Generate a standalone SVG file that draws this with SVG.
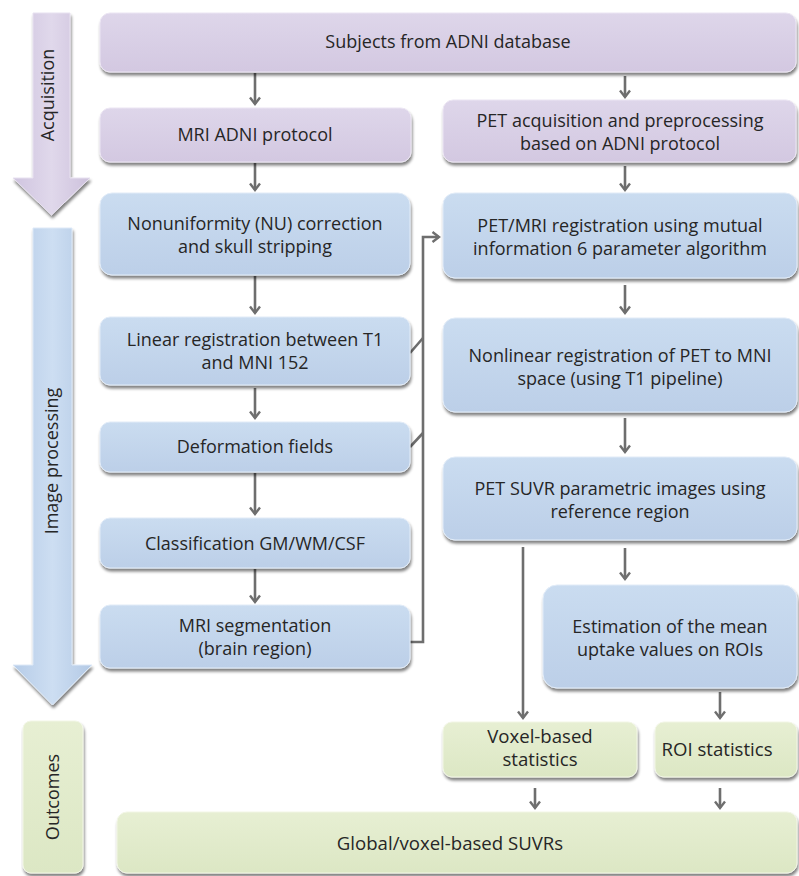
<svg xmlns="http://www.w3.org/2000/svg" width="799" height="876" viewBox="0 0 799 876">
<style>
.t{font-family:"Open Sans","Noto Sans","DejaVu Sans",sans-serif;font-size:18px;fill:#262626;text-anchor:middle}
.s{font-size:18.6px}
.p{fill:url(#gp);stroke:#ece6f3;stroke-width:1;filter:url(#sh)}
.b{fill:url(#gb);stroke:#e2ecf8;stroke-width:1;filter:url(#sh)}
.g{fill:url(#gg);stroke:#f2f6e6;stroke-width:1;filter:url(#sh)}
.c{stroke:#6e6e6e;stroke-width:2.6;fill:none}
.a{marker-end:url(#ah)}
</style>
<defs>
<linearGradient id="gp" x1="0" y1="0" x2="0" y2="1"><stop offset="0" stop-color="#ded6ea"/><stop offset="1" stop-color="#d3c8e1"/></linearGradient>
<linearGradient id="gb" x1="0" y1="0" x2="0" y2="1"><stop offset="0" stop-color="#cadcf0"/><stop offset="1" stop-color="#bccfe8"/></linearGradient>
<linearGradient id="gg" x1="0" y1="0" x2="0" y2="1"><stop offset="0" stop-color="#e7efd3"/><stop offset="1" stop-color="#dce7c4"/></linearGradient>
<linearGradient id="ap" x1="0" y1="0" x2="1" y2="0"><stop offset="0" stop-color="#cfc4df"/><stop offset="0.5" stop-color="#e0d8eb"/><stop offset="1" stop-color="#cdc1dc"/></linearGradient>
<linearGradient id="ab" x1="0" y1="0" x2="1" y2="0"><stop offset="0" stop-color="#b6cce8"/><stop offset="0.5" stop-color="#cddef2"/><stop offset="1" stop-color="#b3c9e5"/></linearGradient>
<filter id="sh" x="-5%" y="-10%" width="112%" height="130%">
<feGaussianBlur in="SourceAlpha" stdDeviation="1.5"/>
<feOffset dx="1" dy="2.5" result="o"/>
<feComponentTransfer><feFuncA type="linear" slope="0.5"/></feComponentTransfer>
<feMerge><feMergeNode/><feMergeNode in="SourceGraphic"/></feMerge>
</filter>
<marker id="ah" viewBox="0 0 12 12" refX="10" refY="6" markerWidth="12" markerHeight="12" markerUnits="userSpaceOnUse" orient="auto">
<path d="M3.5,1 L10,6 L3.5,11" fill="none" stroke="#6e6e6e" stroke-width="2.4"/>
</marker>
</defs>

<g id="phase-acquisition">
<path d="M33,13 H70 V178 H90 L51.5,215 L13,178 H33 Z" fill="url(#ap)" stroke="#e8e2f0" stroke-width="1" filter="url(#sh)"/>
<text class="t" transform="translate(54,95) rotate(-90)">Acquisition</text>
</g>
<g id="phase-image-processing">
<path d="M33,228 H72 V665 H92 L52.5,705 L13,665 H33 Z" fill="url(#ab)" stroke="#deeaf7" stroke-width="1" filter="url(#sh)"/>
<text class="t" transform="translate(58,461) rotate(-90)">Image processing</text>
</g>
<g id="phase-outcomes">
<rect class="g" x="23" y="721" width="60" height="152" rx="8"/>
<text class="t" transform="translate(59,797) rotate(-90)">Outcomes</text>
</g>

<g id="connectors">
<line class="c a" x1="255" y1="73" x2="255" y2="104"/>
<line class="c a" x1="625" y1="76" x2="625" y2="97"/>
<line class="c a" x1="255" y1="163" x2="255" y2="190"/>
<line class="c a" x1="625" y1="166" x2="625" y2="190"/>
<line class="c a" x1="255" y1="276" x2="255" y2="313"/>
<line class="c a" x1="255" y1="388" x2="255" y2="418"/>
<line class="c a" x1="255" y1="473" x2="255" y2="514"/>
<line class="c a" x1="255" y1="569" x2="255" y2="602"/>
<line class="c a" x1="625" y1="285" x2="625" y2="313"/>
<line class="c a" x1="625" y1="418" x2="625" y2="452"/>
<line class="c a" x1="625" y1="548" x2="625" y2="579"/>
<line class="c a" x1="523" y1="547" x2="523" y2="718"/>
<line class="c a" x1="720" y1="692" x2="720" y2="718"/>
<line class="c a" x1="535" y1="788" x2="535" y2="808"/>
<line class="c a" x1="720" y1="788" x2="720" y2="808"/>
<path class="c a" d="M410,642 H423 V237 H439"/>
<path class="c" d="M410,353 L423,338"/>
<path class="c" d="M410,447 L423,433"/>
</g>

<g id="subjects">
<rect class="p" x="100" y="13" width="696" height="59" rx="10"/>
<text class="t" x="448" y="48">Subjects from ADNI database</text>
</g>
<g id="mri-adni">
<rect class="p" x="100" y="108" width="311" height="54" rx="10"/>
<text class="t" x="255" y="141">MRI ADNI protocol</text>
</g>
<g id="pet-acq">
<rect class="p" x="443" y="100" width="353" height="62" rx="10"/>
<text class="t" x="620" y="127">PET acquisition and preprocessing</text>
<text class="t" x="620" y="150">based on ADNI protocol</text>
</g>
<g id="nu-correction">
<rect class="b" x="100" y="193" width="310" height="82" rx="12"/>
<text class="t" x="255" y="230">Nonuniformity (NU) correction</text>
<text class="t" x="255" y="253">and skull stripping</text>
</g>
<g id="linear-reg">
<rect class="b" x="100" y="317" width="310" height="68" rx="10"/>
<text class="t" x="255" y="346">Linear registration between T1</text>
<text class="t" x="255" y="369">and MNI 152</text>
</g>
<g id="deformation">
<rect class="b" x="100" y="422" width="310" height="50" rx="10"/>
<text class="t" x="255" y="453">Deformation fields</text>
</g>
<g id="classification">
<rect class="b" x="100" y="518" width="310" height="50" rx="10"/>
<text class="t" x="255" y="550">Classification GM/WM/CSF</text>
</g>
<g id="segmentation">
<rect class="b" x="100" y="605" width="310" height="63" rx="10"/>
<text class="t" x="255" y="632">MRI segmentation</text>
<text class="t" x="255" y="655">(brain region)</text>
</g>
<g id="pet-mri-reg">
<rect class="b" x="443" y="193" width="354" height="85" rx="12"/>
<text class="t" x="620" y="232">PET/MRI registration using mutual</text>
<text class="t" x="620" y="255">information 6 parameter algorithm</text>
</g>
<g id="nonlinear-reg">
<rect class="b" x="443" y="318" width="354" height="94" rx="12"/>
<text class="t" x="620" y="362">Nonlinear registration of PET to MNI</text>
<text class="t" x="620" y="385">space (using T1 pipeline)</text>
</g>
<g id="suvr">
<rect class="b" x="443" y="457" width="354" height="83" rx="12"/>
<text class="t" x="620" y="495">PET SUVR parametric images using</text>
<text class="t" x="620" y="518">reference region</text>
</g>
<g id="estimation">
<rect class="b" x="543" y="585" width="254" height="103" rx="14"/>
<text class="t" x="670" y="633">Estimation of the mean</text>
<text class="t" x="670" y="656">uptake values on ROIs</text>
</g>
<g id="voxel-stats">
<rect class="g" x="443" y="722" width="194" height="55" rx="9"/>
<text class="t s" x="540" y="743">Voxel-based</text>
<text class="t s" x="540" y="766">statistics</text>
</g>
<g id="roi-stats">
<rect class="g" x="655" y="722" width="142" height="55" rx="9"/>
<text class="t s" x="717" y="756">ROI statistics</text>
</g>
<g id="global-suvr">
<rect class="g" x="117" y="812" width="680" height="61" rx="10"/>
<text class="t s" x="450" y="850">Global/voxel-based SUVRs</text>
</g>
</svg>
